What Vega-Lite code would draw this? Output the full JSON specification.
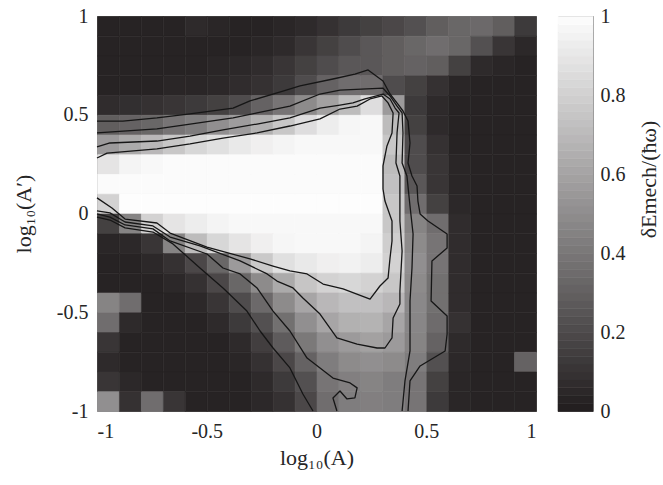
{
"$schema":"https://vega.github.io/schema/vega-lite/v6.json",
"background":"white",
"padding":{"left":11,"top":5,"right":5,"bottom":5},
"bounds":"flush",
"spacing":22,
"config":{
 "view":{"stroke":"#8c8c8c","strokeWidth":1},
 "axis":{"domain":false,"ticks":false,"grid":false,"labelFont":"Liberation Serif","labelFontSize":20,"labelColor":"#262626","titleFont":"Liberation Serif","titleFontSize":22,"titleFontWeight":"normal","titleColor":"#262626"}
},
"datasets":{
"grid":[
{"x":-1,"y":0.9,"v":0.02},{"x":-0.9,"y":0.9,"v":0.02},{"x":-0.8,"y":0.9,"v":0.02},{"x":-0.7,"y":0.9,"v":0.02},{"x":-0.6,"y":0.9,"v":0.05},{"x":-0.5,"y":0.9,"v":0.03},{"x":-0.4,"y":0.9,"v":0.02},{"x":-0.3,"y":0.9,"v":0.02},{"x":-0.2,"y":0.9,"v":0.03},{"x":-0.1,"y":0.9,"v":0.05},{"x":0,"y":0.9,"v":0.08},{"x":0.1,"y":0.9,"v":0.12},{"x":0.2,"y":0.9,"v":0.15},{"x":0.3,"y":0.9,"v":0.18},{"x":0.4,"y":0.9,"v":0.22},{"x":0.5,"y":0.9,"v":0.28},{"x":0.6,"y":0.9,"v":0.32},{"x":0.7,"y":0.9,"v":0.33},{"x":0.8,"y":0.9,"v":0.28},{"x":0.9,"y":0.9,"v":0.12},
{"x":-1,"y":0.8,"v":0.02},{"x":-0.9,"y":0.8,"v":0.02},{"x":-0.8,"y":0.8,"v":0.02},{"x":-0.7,"y":0.8,"v":0.02},{"x":-0.6,"y":0.8,"v":0.02},{"x":-0.5,"y":0.8,"v":0.02},{"x":-0.4,"y":0.8,"v":0.02},{"x":-0.3,"y":0.8,"v":0.03},{"x":-0.2,"y":0.8,"v":0.05},{"x":-0.1,"y":0.8,"v":0.1},{"x":0,"y":0.8,"v":0.15},{"x":0.1,"y":0.8,"v":0.2},{"x":0.2,"y":0.8,"v":0.25},{"x":0.3,"y":0.8,"v":0.28},{"x":0.4,"y":0.8,"v":0.32},{"x":0.5,"y":0.8,"v":0.35},{"x":0.6,"y":0.8,"v":0.32},{"x":0.7,"y":0.8,"v":0.22},{"x":0.8,"y":0.8,"v":0.1},{"x":0.9,"y":0.8,"v":0.04},
{"x":-1,"y":0.7,"v":0.02},{"x":-0.9,"y":0.7,"v":0.02},{"x":-0.8,"y":0.7,"v":0.02},{"x":-0.7,"y":0.7,"v":0.02},{"x":-0.6,"y":0.7,"v":0.02},{"x":-0.5,"y":0.7,"v":0.03},{"x":-0.4,"y":0.7,"v":0.04},{"x":-0.3,"y":0.7,"v":0.06},{"x":-0.2,"y":0.7,"v":0.1},{"x":-0.1,"y":0.7,"v":0.15},{"x":0,"y":0.7,"v":0.2},{"x":0.1,"y":0.7,"v":0.25},{"x":0.2,"y":0.7,"v":0.25},{"x":0.3,"y":0.7,"v":0.28},{"x":0.4,"y":0.7,"v":0.3},{"x":0.5,"y":0.7,"v":0.28},{"x":0.6,"y":0.7,"v":0.15},{"x":0.7,"y":0.7,"v":0.05},{"x":0.8,"y":0.7,"v":0.03},{"x":0.9,"y":0.7,"v":0.02},
{"x":-1,"y":0.6,"v":0.02},{"x":-0.9,"y":0.6,"v":0.02},{"x":-0.8,"y":0.6,"v":0.02},{"x":-0.7,"y":0.6,"v":0.03},{"x":-0.6,"y":0.6,"v":0.03},{"x":-0.5,"y":0.6,"v":0.04},{"x":-0.4,"y":0.6,"v":0.06},{"x":-0.3,"y":0.6,"v":0.08},{"x":-0.2,"y":0.6,"v":0.12},{"x":-0.1,"y":0.6,"v":0.2},{"x":0,"y":0.6,"v":0.3},{"x":0.1,"y":0.6,"v":0.35},{"x":0.2,"y":0.6,"v":0.35},{"x":0.3,"y":0.6,"v":0.2},{"x":0.4,"y":0.6,"v":0.15},{"x":0.5,"y":0.6,"v":0.08},{"x":0.6,"y":0.6,"v":0.03},{"x":0.7,"y":0.6,"v":0.02},{"x":0.8,"y":0.6,"v":0.02},{"x":0.9,"y":0.6,"v":0.02},
{"x":-1,"y":0.5,"v":0.06},{"x":-0.9,"y":0.5,"v":0.07},{"x":-0.8,"y":0.5,"v":0.08},{"x":-0.7,"y":0.5,"v":0.1},{"x":-0.6,"y":0.5,"v":0.12},{"x":-0.5,"y":0.5,"v":0.15},{"x":-0.4,"y":0.5,"v":0.2},{"x":-0.3,"y":0.5,"v":0.3},{"x":-0.2,"y":0.5,"v":0.38},{"x":-0.1,"y":0.5,"v":0.48},{"x":0,"y":0.5,"v":0.58},{"x":0.1,"y":0.5,"v":0.7},{"x":0.2,"y":0.5,"v":0.85},{"x":0.3,"y":0.5,"v":0.55},{"x":0.4,"y":0.5,"v":0.12},{"x":0.5,"y":0.5,"v":0.05},{"x":0.6,"y":0.5,"v":0.02},{"x":0.7,"y":0.5,"v":0.02},{"x":0.8,"y":0.5,"v":0.02},{"x":0.9,"y":0.5,"v":0.02},
{"x":-1,"y":0.4,"v":0.28},{"x":-0.9,"y":0.4,"v":0.3},{"x":-0.8,"y":0.4,"v":0.32},{"x":-0.7,"y":0.4,"v":0.38},{"x":-0.6,"y":0.4,"v":0.42},{"x":-0.5,"y":0.4,"v":0.5},{"x":-0.4,"y":0.4,"v":0.56},{"x":-0.3,"y":0.4,"v":0.65},{"x":-0.2,"y":0.4,"v":0.75},{"x":-0.1,"y":0.4,"v":0.85},{"x":0,"y":0.4,"v":0.92},{"x":0.1,"y":0.4,"v":0.96},{"x":0.2,"y":0.4,"v":0.97},{"x":0.3,"y":0.4,"v":0.7},{"x":0.4,"y":0.4,"v":0.15},{"x":0.5,"y":0.4,"v":0.05},{"x":0.6,"y":0.4,"v":0.02},{"x":0.7,"y":0.4,"v":0.02},{"x":0.8,"y":0.4,"v":0.02},{"x":0.9,"y":0.4,"v":0.02},
{"x":-1,"y":0.3,"v":0.55},{"x":-0.9,"y":0.3,"v":0.62},{"x":-0.8,"y":0.3,"v":0.68},{"x":-0.7,"y":0.3,"v":0.75},{"x":-0.6,"y":0.3,"v":0.82},{"x":-0.5,"y":0.3,"v":0.86},{"x":-0.4,"y":0.3,"v":0.9},{"x":-0.3,"y":0.3,"v":0.93},{"x":-0.2,"y":0.3,"v":0.95},{"x":-0.1,"y":0.3,"v":0.97},{"x":0,"y":0.3,"v":0.97},{"x":0.1,"y":0.3,"v":0.97},{"x":0.2,"y":0.3,"v":0.97},{"x":0.3,"y":0.3,"v":0.75},{"x":0.4,"y":0.3,"v":0.2},{"x":0.5,"y":0.3,"v":0.08},{"x":0.6,"y":0.3,"v":0.02},{"x":0.7,"y":0.3,"v":0.02},{"x":0.8,"y":0.3,"v":0.02},{"x":0.9,"y":0.3,"v":0.02},
{"x":-1,"y":0.2,"v":0.88},{"x":-0.9,"y":0.2,"v":0.95},{"x":-0.8,"y":0.2,"v":0.97},{"x":-0.7,"y":0.2,"v":0.98},{"x":-0.6,"y":0.2,"v":0.98},{"x":-0.5,"y":0.2,"v":0.98},{"x":-0.4,"y":0.2,"v":0.98},{"x":-0.3,"y":0.2,"v":0.98},{"x":-0.2,"y":0.2,"v":0.98},{"x":-0.1,"y":0.2,"v":0.98},{"x":0,"y":0.2,"v":0.98},{"x":0.1,"y":0.2,"v":0.98},{"x":0.2,"y":0.2,"v":0.98},{"x":0.3,"y":0.2,"v":0.7},{"x":0.4,"y":0.2,"v":0.2},{"x":0.5,"y":0.2,"v":0.1},{"x":0.6,"y":0.2,"v":0.03},{"x":0.7,"y":0.2,"v":0.02},{"x":0.8,"y":0.2,"v":0.02},{"x":0.9,"y":0.2,"v":0.02},
{"x":-1,"y":0.1,"v":0.98},{"x":-0.9,"y":0.1,"v":0.98},{"x":-0.8,"y":0.1,"v":0.98},{"x":-0.7,"y":0.1,"v":0.98},{"x":-0.6,"y":0.1,"v":0.98},{"x":-0.5,"y":0.1,"v":0.98},{"x":-0.4,"y":0.1,"v":0.98},{"x":-0.3,"y":0.1,"v":0.98},{"x":-0.2,"y":0.1,"v":0.98},{"x":-0.1,"y":0.1,"v":0.98},{"x":0,"y":0.1,"v":0.98},{"x":0.1,"y":0.1,"v":0.98},{"x":0.2,"y":0.1,"v":0.98},{"x":0.3,"y":0.1,"v":0.72},{"x":0.4,"y":0.1,"v":0.25},{"x":0.5,"y":0.1,"v":0.1},{"x":0.6,"y":0.1,"v":0.03},{"x":0.7,"y":0.1,"v":0.02},{"x":0.8,"y":0.1,"v":0.02},{"x":0.9,"y":0.1,"v":0.02},
{"x":-1,"y":0,"v":0.8},{"x":-0.9,"y":0,"v":0.99},{"x":-0.8,"y":0,"v":0.99},{"x":-0.7,"y":0,"v":0.99},{"x":-0.6,"y":0,"v":0.99},{"x":-0.5,"y":0,"v":0.99},{"x":-0.4,"y":0,"v":0.99},{"x":-0.3,"y":0,"v":0.99},{"x":-0.2,"y":0,"v":0.99},{"x":-0.1,"y":0,"v":0.99},{"x":0,"y":0,"v":0.99},{"x":0.1,"y":0,"v":0.99},{"x":0.2,"y":0,"v":0.99},{"x":0.3,"y":0,"v":0.75},{"x":0.4,"y":0,"v":0.35},{"x":0.5,"y":0,"v":0.15},{"x":0.6,"y":0,"v":0.04},{"x":0.7,"y":0,"v":0.02},{"x":0.8,"y":0,"v":0.02},{"x":0.9,"y":0,"v":0.02},
{"x":-1,"y":-0.1,"v":0.15},{"x":-0.9,"y":-0.1,"v":0.45},{"x":-0.8,"y":-0.1,"v":0.8},{"x":-0.7,"y":-0.1,"v":0.88},{"x":-0.6,"y":-0.1,"v":0.92},{"x":-0.5,"y":-0.1,"v":0.95},{"x":-0.4,"y":-0.1,"v":0.97},{"x":-0.3,"y":-0.1,"v":0.97},{"x":-0.2,"y":-0.1,"v":0.97},{"x":-0.1,"y":-0.1,"v":0.97},{"x":0,"y":-0.1,"v":0.97},{"x":0.1,"y":-0.1,"v":0.97},{"x":0.2,"y":-0.1,"v":0.97},{"x":0.3,"y":-0.1,"v":0.75},{"x":0.4,"y":-0.1,"v":0.45},{"x":0.5,"y":-0.1,"v":0.35},{"x":0.6,"y":-0.1,"v":0.06},{"x":0.7,"y":-0.1,"v":0.02},{"x":0.8,"y":-0.1,"v":0.02},{"x":0.9,"y":-0.1,"v":0.02},
{"x":-1,"y":-0.2,"v":0.03},{"x":-0.9,"y":-0.2,"v":0.04},{"x":-0.8,"y":-0.2,"v":0.1},{"x":-0.7,"y":-0.2,"v":0.45},{"x":-0.6,"y":-0.2,"v":0.7},{"x":-0.5,"y":-0.2,"v":0.82},{"x":-0.4,"y":-0.2,"v":0.88},{"x":-0.3,"y":-0.2,"v":0.93},{"x":-0.2,"y":-0.2,"v":0.96},{"x":-0.1,"y":-0.2,"v":0.97},{"x":0,"y":-0.2,"v":0.97},{"x":0.1,"y":-0.2,"v":0.97},{"x":0.2,"y":-0.2,"v":0.95},{"x":0.3,"y":-0.2,"v":0.78},{"x":0.4,"y":-0.2,"v":0.48},{"x":0.5,"y":-0.2,"v":0.38},{"x":0.6,"y":-0.2,"v":0.06},{"x":0.7,"y":-0.2,"v":0.02},{"x":0.8,"y":-0.2,"v":0.02},{"x":0.9,"y":-0.2,"v":0.02},
{"x":-1,"y":-0.3,"v":0.02},{"x":-0.9,"y":-0.3,"v":0.02},{"x":-0.8,"y":-0.3,"v":0.04},{"x":-0.7,"y":-0.3,"v":0.08},{"x":-0.6,"y":-0.3,"v":0.18},{"x":-0.5,"y":-0.3,"v":0.32},{"x":-0.4,"y":-0.3,"v":0.55},{"x":-0.3,"y":-0.3,"v":0.76},{"x":-0.2,"y":-0.3,"v":0.86},{"x":-0.1,"y":-0.3,"v":0.9},{"x":0,"y":-0.3,"v":0.93},{"x":0.1,"y":-0.3,"v":0.94},{"x":0.2,"y":-0.3,"v":0.92},{"x":0.3,"y":-0.3,"v":0.8},{"x":0.4,"y":-0.3,"v":0.5},{"x":0.5,"y":-0.3,"v":0.38},{"x":0.6,"y":-0.3,"v":0.06},{"x":0.7,"y":-0.3,"v":0.02},{"x":0.8,"y":-0.3,"v":0.02},{"x":0.9,"y":-0.3,"v":0.02},
{"x":-1,"y":-0.4,"v":0.02},{"x":-0.9,"y":-0.4,"v":0.02},{"x":-0.8,"y":-0.4,"v":0.02},{"x":-0.7,"y":-0.4,"v":0.04},{"x":-0.6,"y":-0.4,"v":0.08},{"x":-0.5,"y":-0.4,"v":0.18},{"x":-0.4,"y":-0.4,"v":0.32},{"x":-0.3,"y":-0.4,"v":0.48},{"x":-0.2,"y":-0.4,"v":0.62},{"x":-0.1,"y":-0.4,"v":0.74},{"x":0,"y":-0.4,"v":0.8},{"x":0.1,"y":-0.4,"v":0.82},{"x":0.2,"y":-0.4,"v":0.8},{"x":0.3,"y":-0.4,"v":0.75},{"x":0.4,"y":-0.4,"v":0.48},{"x":0.5,"y":-0.4,"v":0.36},{"x":0.6,"y":-0.4,"v":0.06},{"x":0.7,"y":-0.4,"v":0.02},{"x":0.8,"y":-0.4,"v":0.02},{"x":0.9,"y":-0.4,"v":0.02},
{"x":-1,"y":-0.5,"v":0.45},{"x":-0.9,"y":-0.5,"v":0.35},{"x":-0.8,"y":-0.5,"v":0.02},{"x":-0.7,"y":-0.5,"v":0.02},{"x":-0.6,"y":-0.5,"v":0.04},{"x":-0.5,"y":-0.5,"v":0.1},{"x":-0.4,"y":-0.5,"v":0.2},{"x":-0.3,"y":-0.5,"v":0.33},{"x":-0.2,"y":-0.5,"v":0.48},{"x":-0.1,"y":-0.5,"v":0.6},{"x":0,"y":-0.5,"v":0.68},{"x":0.1,"y":-0.5,"v":0.72},{"x":0.2,"y":-0.5,"v":0.72},{"x":0.3,"y":-0.5,"v":0.68},{"x":0.4,"y":-0.5,"v":0.47},{"x":0.5,"y":-0.5,"v":0.36},{"x":0.6,"y":-0.5,"v":0.06},{"x":0.7,"y":-0.5,"v":0.02},{"x":0.8,"y":-0.5,"v":0.02},{"x":0.9,"y":-0.5,"v":0.02},
{"x":-1,"y":-0.6,"v":0.35},{"x":-0.9,"y":-0.6,"v":0.05},{"x":-0.8,"y":-0.6,"v":0.02},{"x":-0.7,"y":-0.6,"v":0.02},{"x":-0.6,"y":-0.6,"v":0.02},{"x":-0.5,"y":-0.6,"v":0.05},{"x":-0.4,"y":-0.6,"v":0.12},{"x":-0.3,"y":-0.6,"v":0.22},{"x":-0.2,"y":-0.6,"v":0.36},{"x":-0.1,"y":-0.6,"v":0.5},{"x":0,"y":-0.6,"v":0.6},{"x":0.1,"y":-0.6,"v":0.65},{"x":0.2,"y":-0.6,"v":0.66},{"x":0.3,"y":-0.6,"v":0.6},{"x":0.4,"y":-0.6,"v":0.46},{"x":0.5,"y":-0.6,"v":0.34},{"x":0.6,"y":-0.6,"v":0.08},{"x":0.7,"y":-0.6,"v":0.02},{"x":0.8,"y":-0.6,"v":0.02},{"x":0.9,"y":-0.6,"v":0.02},
{"x":-1,"y":-0.7,"v":0.1},{"x":-0.9,"y":-0.7,"v":0.02},{"x":-0.8,"y":-0.7,"v":0.02},{"x":-0.7,"y":-0.7,"v":0.02},{"x":-0.6,"y":-0.7,"v":0.02},{"x":-0.5,"y":-0.7,"v":0.02},{"x":-0.4,"y":-0.7,"v":0.05},{"x":-0.3,"y":-0.7,"v":0.14},{"x":-0.2,"y":-0.7,"v":0.27},{"x":-0.1,"y":-0.7,"v":0.4},{"x":0,"y":-0.7,"v":0.5},{"x":0.1,"y":-0.7,"v":0.55},{"x":0.2,"y":-0.7,"v":0.58},{"x":0.3,"y":-0.7,"v":0.55},{"x":0.4,"y":-0.7,"v":0.45},{"x":0.5,"y":-0.7,"v":0.3},{"x":0.6,"y":-0.7,"v":0.05},{"x":0.7,"y":-0.7,"v":0.02},{"x":0.8,"y":-0.7,"v":0.02},{"x":0.9,"y":-0.7,"v":0.02},
{"x":-1,"y":-0.8,"v":0.05},{"x":-0.9,"y":-0.8,"v":0.02},{"x":-0.8,"y":-0.8,"v":0.02},{"x":-0.7,"y":-0.8,"v":0.02},{"x":-0.6,"y":-0.8,"v":0.02},{"x":-0.5,"y":-0.8,"v":0.02},{"x":-0.4,"y":-0.8,"v":0.03},{"x":-0.3,"y":-0.8,"v":0.08},{"x":-0.2,"y":-0.8,"v":0.18},{"x":-0.1,"y":-0.8,"v":0.3},{"x":0,"y":-0.8,"v":0.42},{"x":0.1,"y":-0.8,"v":0.48},{"x":0.2,"y":-0.8,"v":0.5},{"x":0.3,"y":-0.8,"v":0.48},{"x":0.4,"y":-0.8,"v":0.42},{"x":0.5,"y":-0.8,"v":0.22},{"x":0.6,"y":-0.8,"v":0.04},{"x":0.7,"y":-0.8,"v":0.02},{"x":0.8,"y":-0.8,"v":0.02},{"x":0.9,"y":-0.8,"v":0.3},
{"x":-1,"y":-0.9,"v":0.1},{"x":-0.9,"y":-0.9,"v":0.04},{"x":-0.8,"y":-0.9,"v":0.02},{"x":-0.7,"y":-0.9,"v":0.02},{"x":-0.6,"y":-0.9,"v":0.02},{"x":-0.5,"y":-0.9,"v":0.02},{"x":-0.4,"y":-0.9,"v":0.02},{"x":-0.3,"y":-0.9,"v":0.05},{"x":-0.2,"y":-0.9,"v":0.12},{"x":-0.1,"y":-0.9,"v":0.22},{"x":0,"y":-0.9,"v":0.38},{"x":0.1,"y":-0.9,"v":0.43},{"x":0.2,"y":-0.9,"v":0.45},{"x":0.3,"y":-0.9,"v":0.42},{"x":0.4,"y":-0.9,"v":0.38},{"x":0.5,"y":-0.9,"v":0.15},{"x":0.6,"y":-0.9,"v":0.03},{"x":0.7,"y":-0.9,"v":0.02},{"x":0.8,"y":-0.9,"v":0.02},{"x":0.9,"y":-0.9,"v":0.02},
{"x":-1,"y":-1,"v":0.5},{"x":-0.9,"y":-1,"v":0.08},{"x":-0.8,"y":-1,"v":0.35},{"x":-0.7,"y":-1,"v":0.1},{"x":-0.6,"y":-1,"v":0.02},{"x":-0.5,"y":-1,"v":0.02},{"x":-0.4,"y":-1,"v":0.02},{"x":-0.3,"y":-1,"v":0.04},{"x":-0.2,"y":-1,"v":0.08},{"x":-0.1,"y":-1,"v":0.18},{"x":0,"y":-1,"v":0.35},{"x":0.1,"y":-1,"v":0.42},{"x":0.2,"y":-1,"v":0.43},{"x":0.3,"y":-1,"v":0.42},{"x":0.4,"y":-1,"v":0.38},{"x":0.5,"y":-1,"v":0.12},{"x":0.6,"y":-1,"v":0.03},{"x":0.7,"y":-1,"v":0.02},{"x":0.8,"y":-1,"v":0.02},{"x":0.9,"y":-1,"v":0.02}
],
"cont":[
{"k":"1","o":1,"X":-1,"Y":0.468},{"k":"1","o":2,"X":-0.882,"Y":0.468},{"k":"1","o":3,"X":-0.727,"Y":0.484},{"k":"1","o":4,"X":-0.576,"Y":0.504},{"k":"1","o":5,"X":-0.38,"Y":0.534},{"k":"1","o":6,"X":-0.303,"Y":0.57},{"k":"1","o":7,"X":-0.153,"Y":0.62},{"k":"1","o":8,"X":-0.075,"Y":0.646},{"k":"1","o":9,"X":0.075,"Y":0.681},{"k":"1","o":10,"X":0.175,"Y":0.706},{"k":"1","o":11,"X":0.235,"Y":0.727},{"k":"1","o":12,"X":0.303,"Y":0.671},{"k":"1","o":13,"X":0.335,"Y":0.605},{"k":"1","o":14,"X":0.371,"Y":0.554},{"k":"1","o":15,"X":0.394,"Y":0.519},{"k":"1","o":16,"X":0.417,"Y":0.468},{"k":"1","o":17,"X":0.426,"Y":0.357},{"k":"1","o":18,"X":0.417,"Y":0.256},{"k":"1","o":19,"X":0.435,"Y":0.19},{"k":"1","o":20,"X":0.458,"Y":0.139},{"k":"1","o":21,"X":0.462,"Y":0.063},{"k":"1","o":22,"X":0.472,"Y":-0.002},{"k":"1","o":23,"X":0.508,"Y":-0.038},{"k":"1","o":24,"X":0.595,"Y":-0.104},{"k":"1","o":25,"X":0.595,"Y":-0.175},{"k":"1","o":26,"X":0.526,"Y":-0.24},{"k":"1","o":27,"X":0.522,"Y":-0.443},{"k":"1","o":28,"X":0.595,"Y":-0.519},{"k":"1","o":29,"X":0.595,"Y":-0.61},{"k":"1","o":30,"X":0.586,"Y":-0.696},{"k":"1","o":31,"X":0.472,"Y":-0.772},{"k":"1","o":32,"X":0.426,"Y":-0.848},{"k":"1","o":33,"X":0.417,"Y":-1},
{"k":"2","o":1,"X":-1,"Y":0.408},{"k":"2","o":2,"X":-0.727,"Y":0.428},{"k":"2","o":3,"X":-0.576,"Y":0.453},{"k":"2","o":4,"X":-0.38,"Y":0.484},{"k":"2","o":5,"X":-0.271,"Y":0.509},{"k":"2","o":6,"X":-0.121,"Y":0.544},{"k":"2","o":7,"X":0.016,"Y":0.605},{"k":"2","o":8,"X":0.107,"Y":0.625},{"k":"2","o":9,"X":0.303,"Y":0.635},{"k":"2","o":10,"X":0.335,"Y":0.595},{"k":"2","o":11,"X":0.367,"Y":0.544},{"k":"2","o":12,"X":0.39,"Y":0.509},{"k":"2","o":13,"X":0.394,"Y":0.408},{"k":"2","o":14,"X":0.39,"Y":0.256},{"k":"2","o":15,"X":0.412,"Y":0.19},{"k":"2","o":16,"X":0.426,"Y":0.038},{"k":"2","o":17,"X":0.44,"Y":-0.104},{"k":"2","o":18,"X":0.435,"Y":-0.276},{"k":"2","o":19,"X":0.426,"Y":-0.443},{"k":"2","o":20,"X":0.426,"Y":-0.61},{"k":"2","o":21,"X":0.426,"Y":-0.696},{"k":"2","o":22,"X":0.403,"Y":-0.848},{"k":"2","o":23,"X":0.39,"Y":-1},
{"k":"3","o":1,"X":-1,"Y":0.337},{"k":"3","o":2,"X":-0.941,"Y":0.357},{"k":"3","o":3,"X":-0.727,"Y":0.367},{"k":"3","o":4,"X":-0.576,"Y":0.392},{"k":"3","o":5,"X":-0.426,"Y":0.423},{"k":"3","o":6,"X":-0.271,"Y":0.453},{"k":"3","o":7,"X":-0.121,"Y":0.484},{"k":"3","o":8,"X":0.016,"Y":0.534},{"k":"3","o":9,"X":0.107,"Y":0.549},{"k":"3","o":10,"X":0.166,"Y":0.56},{"k":"3","o":11,"X":0.221,"Y":0.58},{"k":"3","o":12,"X":0.303,"Y":0.605},{"k":"3","o":13,"X":0.335,"Y":0.58},{"k":"3","o":14,"X":0.358,"Y":0.534},{"k":"3","o":15,"X":0.376,"Y":0.509},{"k":"3","o":16,"X":0.367,"Y":0.408},{"k":"3","o":17,"X":0.362,"Y":0.256},{"k":"3","o":18,"X":0.38,"Y":0.19},{"k":"3","o":19,"X":0.38,"Y":0.063},{"k":"3","o":20,"X":0.38,"Y":-0.038},{"k":"3","o":21,"X":0.39,"Y":-0.19},{"k":"3","o":22,"X":0.38,"Y":-0.392},{"k":"3","o":23,"X":0.38,"Y":-0.458},{"k":"3","o":24,"X":0.349,"Y":-0.529},{"k":"3","o":25,"X":0.344,"Y":-0.63},{"k":"3","o":26,"X":0.312,"Y":-0.681},{"k":"3","o":27,"X":0.276,"Y":-0.681},{"k":"3","o":28,"X":0.185,"Y":-0.661},{"k":"3","o":29,"X":0.093,"Y":-0.63},{"k":"3","o":30,"X":0.016,"Y":-0.509},{"k":"3","o":31,"X":-0.062,"Y":-0.428},{"k":"3","o":32,"X":-0.107,"Y":-0.377},{"k":"3","o":33,"X":-0.18,"Y":-0.342},{"k":"3","o":34,"X":-0.225,"Y":-0.306},{"k":"3","o":35,"X":-0.348,"Y":-0.24},{"k":"3","o":36,"X":-0.531,"Y":-0.164},{"k":"3","o":37,"X":-0.667,"Y":-0.119},{"k":"3","o":38,"X":-0.745,"Y":-0.063},{"k":"3","o":39,"X":-0.872,"Y":-0.043},{"k":"3","o":40,"X":-0.941,"Y":0.003},{"k":"3","o":41,"X":-1,"Y":0.013},
{"k":"4","o":1,"X":-1,"Y":0.281},{"k":"4","o":2,"X":-0.954,"Y":0.306},{"k":"4","o":3,"X":-0.727,"Y":0.327},{"k":"4","o":4,"X":-0.576,"Y":0.352},{"k":"4","o":5,"X":-0.426,"Y":0.382},{"k":"4","o":6,"X":-0.271,"Y":0.408},{"k":"4","o":7,"X":-0.121,"Y":0.443},{"k":"4","o":8,"X":0.016,"Y":0.479},{"k":"4","o":9,"X":0.107,"Y":0.529},{"k":"4","o":10,"X":0.185,"Y":0.544},{"k":"4","o":11,"X":0.244,"Y":0.58},{"k":"4","o":12,"X":0.298,"Y":0.595},{"k":"4","o":13,"X":0.326,"Y":0.56},{"k":"4","o":14,"X":0.349,"Y":0.509},{"k":"4","o":15,"X":0.344,"Y":0.408},{"k":"4","o":16,"X":0.321,"Y":0.342},{"k":"4","o":17,"X":0.303,"Y":0.241},{"k":"4","o":18,"X":0.303,"Y":0.124},{"k":"4","o":19,"X":0.312,"Y":0.063},{"k":"4","o":20,"X":0.344,"Y":-0.038},{"k":"4","o":21,"X":0.344,"Y":-0.139},{"k":"4","o":22,"X":0.335,"Y":-0.225},{"k":"4","o":23,"X":0.326,"Y":-0.327},{"k":"4","o":24,"X":0.289,"Y":-0.367},{"k":"4","o":25,"X":0.244,"Y":-0.433},{"k":"4","o":26,"X":0.121,"Y":-0.382},{"k":"4","o":27,"X":0.03,"Y":-0.357},{"k":"4","o":28,"X":-0.043,"Y":-0.306},{"k":"4","o":29,"X":-0.121,"Y":-0.291},{"k":"4","o":30,"X":-0.198,"Y":-0.266},{"k":"4","o":31,"X":-0.303,"Y":-0.23},{"k":"4","o":32,"X":-0.499,"Y":-0.17},{"k":"4","o":33,"X":-0.667,"Y":-0.099},{"k":"4","o":34,"X":-0.727,"Y":-0.048},{"k":"4","o":35,"X":-0.872,"Y":-0.028},{"k":"4","o":36,"X":-0.932,"Y":0.028},{"k":"4","o":37,"X":-1,"Y":0.079},
{"k":"c","o":1,"X":-1,"Y":-0.002},{"k":"c","o":2,"X":-0.941,"Y":-0.018},{"k":"c","o":3,"X":-0.872,"Y":-0.058},{"k":"c","o":4,"X":-0.745,"Y":-0.078},{"k":"c","o":5,"X":-0.667,"Y":-0.139},{"k":"c","o":6,"X":-0.499,"Y":-0.205},{"k":"c","o":7,"X":-0.426,"Y":-0.276},{"k":"c","o":8,"X":-0.348,"Y":-0.306},{"k":"c","o":9,"X":-0.271,"Y":-0.377},{"k":"c","o":10,"X":-0.198,"Y":-0.494},{"k":"c","o":11,"X":-0.121,"Y":-0.595},{"k":"c","o":12,"X":-0.043,"Y":-0.732},{"k":"c","o":13,"X":0.075,"Y":-0.833},{"k":"c","o":14,"X":0.153,"Y":-0.858},{"k":"c","o":15,"X":0.185,"Y":-0.883},{"k":"c","o":16,"X":0.175,"Y":-0.934},{"k":"c","o":17,"X":0.139,"Y":-0.939},{"k":"c","o":18,"X":0.107,"Y":-0.899},{"k":"c","o":19,"X":0.075,"Y":-0.934},{"k":"c","o":20,"X":0.093,"Y":-1},
{"k":"d","o":1,"X":-1,"Y":-0.018},{"k":"d","o":2,"X":-0.941,"Y":-0.033},{"k":"d","o":3,"X":-0.872,"Y":-0.073},{"k":"d","o":4,"X":-0.745,"Y":-0.094},{"k":"d","o":5,"X":-0.654,"Y":-0.154},{"k":"d","o":6,"X":-0.531,"Y":-0.276},{"k":"d","o":7,"X":-0.426,"Y":-0.377},{"k":"d","o":8,"X":-0.317,"Y":-0.494},{"k":"d","o":9,"X":-0.257,"Y":-0.595},{"k":"d","o":10,"X":-0.198,"Y":-0.681},{"k":"d","o":11,"X":-0.121,"Y":-0.782},{"k":"d","o":12,"X":-0.062,"Y":-0.914},{"k":"d","o":13,"X":-0.016,"Y":-1}
],
"bar":[{"c":0},{"c":0.02},{"c":0.04},{"c":0.06},{"c":0.08},{"c":0.1},{"c":0.12},{"c":0.14},{"c":0.16},{"c":0.18},{"c":0.2},{"c":0.22},{"c":0.24},{"c":0.26},{"c":0.28},{"c":0.3},{"c":0.32},{"c":0.34},{"c":0.36},{"c":0.38},{"c":0.4},{"c":0.42},{"c":0.44},{"c":0.46},{"c":0.48},{"c":0.5},{"c":0.52},{"c":0.54},{"c":0.56},{"c":0.58},{"c":0.6},{"c":0.62},{"c":0.64},{"c":0.66},{"c":0.68},{"c":0.7},{"c":0.72},{"c":0.74},{"c":0.76},{"c":0.78},{"c":0.8},{"c":0.82},{"c":0.84},{"c":0.86},{"c":0.88},{"c":0.9},{"c":0.92},{"c":0.94},{"c":0.96},{"c":0.98}]
},
"hconcat":[
{
 "width":439,"height":395,
 "layer":[
  {"data":{"name":"grid"},
   "mark":{"type":"rect","binSpacing":0,"strokeWidth":0.6},
   "encoding":{
    "x":{"field":"x","type":"quantitative","bin":{"binned":true,"step":0.1},"scale":{"domain":[-1,1],"nice":false,"zero":false},"title":"log₁₀(A)","axis":{"values":[-1,-0.5,0,0.5,1],"format":"~g","labelExpr":"replace(datum.label,'−','-')","labelPadding":10,"titlePadding":6}},
    "y":{"field":"y","type":"quantitative","bin":{"binned":true,"step":0.1},"scale":{"domain":[-1,1],"nice":false,"zero":false},"title":"log₁₀(A′)","axis":{"values":[-1,-0.5,0,0.5,1],"format":"~g","labelExpr":"replace(datum.label,'−','-')","labelPadding":9,"titlePadding":21}},
    "color":{"field":"v","type":"quantitative","scale":{"domain":[0,1],"range":["#231f20","#ffffff"],"interpolate":"rgb"},"legend":null},
    "stroke":{"field":"v","type":"quantitative","scale":{"domain":[0,1],"range":["#231f20","#ffffff"],"interpolate":"rgb"},"legend":null}
   }},
  {"data":{"name":"cont"},
   "mark":{"type":"line","color":"#161616","strokeWidth":1.3,"strokeJoin":"round"},
   "encoding":{
    "x":{"field":"X","type":"quantitative","title":"log₁₀(A)"},
    "y":{"field":"Y","type":"quantitative","title":"log₁₀(A′)"},
    "detail":{"field":"k"},
    "order":{"field":"o","type":"quantitative"}
   }}
 ]
},
{
 "width":35,"height":395,
 "data":{"name":"bar"},
 "mark":{"type":"rect","binSpacing":0,"strokeWidth":0.6},
 "encoding":{
  "y":{"field":"c","type":"quantitative","bin":{"binned":true,"step":0.02},"scale":{"domain":[0,1],"nice":false,"zero":false},"title":"δEmech/(ħω)","axis":{"orient":"right","values":[0,0.2,0.4,0.6,0.8,1],"format":"~g","labelPadding":7,"titleAngle":270,"titleX":55,"titleY":163,"titleBaseline":"middle","titleAlign":"center"}},
  "color":{"field":"c","type":"quantitative","scale":{"domain":[0,1],"range":["#231f20","#ffffff"],"interpolate":"rgb"},"legend":null},
  "stroke":{"field":"c","type":"quantitative","scale":{"domain":[0,1],"range":["#231f20","#ffffff"],"interpolate":"rgb"},"legend":null}
 }
}
]
}
